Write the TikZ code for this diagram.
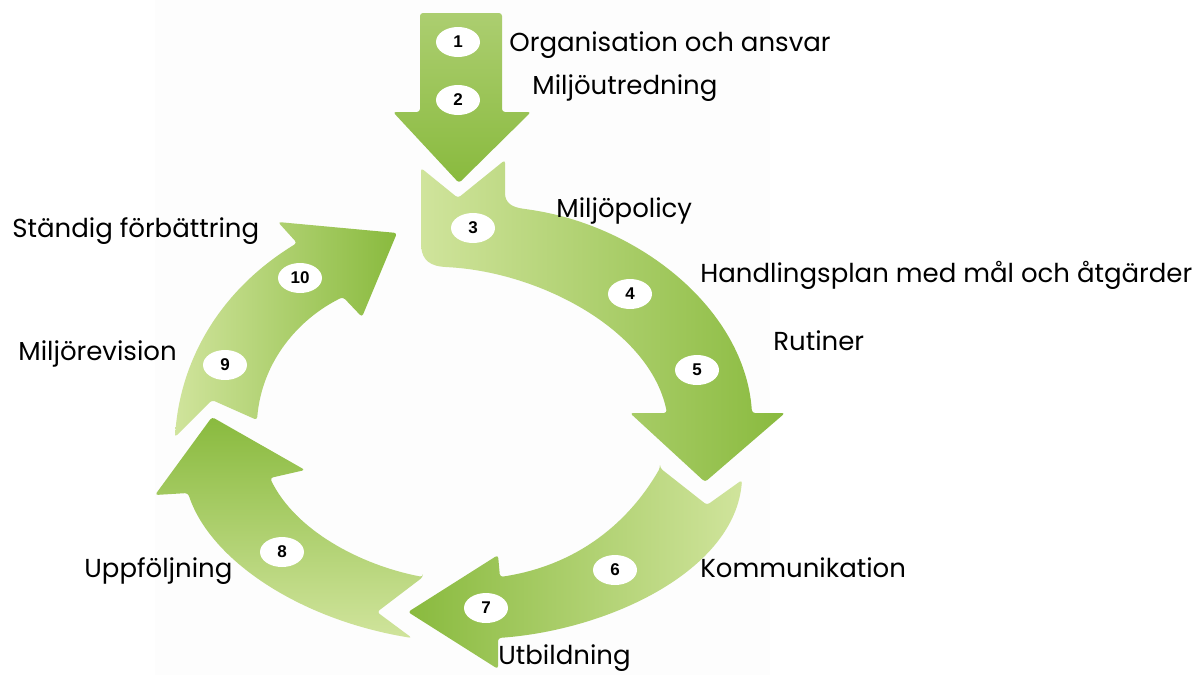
\documentclass[tikz,border=0pt]{standalone}
\usepackage{fontspec}
\setmainfont{Poppins}
\newfontfamily\numfont{Liberation Sans}
\usepackage{tikz}
\usetikzlibrary{shapes.geometric}
\definecolor{leaf}{RGB}{137,186,62}
\definecolor{sprout}{RGB}{208,228,156}
\definecolor{moss}{RGB}{172,206,112}
\definecolor{paper}{RGB}{253,253,253}

\begin{document}
\begin{tikzpicture}
	[x=0.5pt,y=-0.5pt,
	band/.style={rounded corners=1.5pt},
	pill/.style={ellipse,fill=white,minimum width=22pt,minimum height=15pt,inner sep=0pt,font=\numfont\bfseries\fontsize{8.5}{8.5}\selectfont},
	lbl/.style={anchor=base west,inner sep=0pt,font=\fontsize{13}{15}\selectfont}]
	\useasboundingbox (0,0) rectangle (1192,675);
	\fill[paper] (155,0) rectangle (770,675);
	% arrow 1-2
	\shade[band,top color=moss,bottom color=leaf] (420,13) -- (502,13) -- (502,112) -- (531,112) -- (459,183) -- (393,112) -- (420,112) -- cycle;
	% arrow 3-5
	\shade[band,left color=sprout,right color=leaf] (421,168) -- (458,198) -- (505,160) -- (505,190)
		.. controls (505,203) and (512,207) .. (525,209)
		.. controls (640,225) and (745,310) .. (752,413)
		-- (785,413) -- (705,482) -- (630,413) -- (667,413)
		.. controls (650,330) and (540,272) .. (445,267)
		.. controls (426,265) and (421,256) .. (421,240) -- cycle;
	% arrow 6-7
	\shade[band,left color=leaf,right color=sprout] (660,468) -- (707,505) -- (742,480)
		.. controls (735,570) and (610,630) .. (498,638)
		-- (498,669) -- (408,612) -- (498,555) -- (500,577)
		.. controls (580,565) and (630,520) .. (660,468) -- cycle;
	% arrow 8
	\shade[band,top color=leaf,bottom color=sprout] (423,577) -- (377,612) -- (412,638)
		.. controls (300,620) and (210,560) .. (188,493)
		-- (155,495) -- (212,417) -- (305,470) -- (270,478)
		.. controls (295,530) and (360,565) .. (423,577) -- cycle;
	% arrow 9-10
	\shade[band,left color=sprout,right color=leaf] (175,437) -- (212,400) -- (257,420)
		.. controls (262,360) and (300,318) .. (343,297)
		-- (362,317) -- (397,233) -- (278,222) -- (297,243)
		.. controls (220,290) and (180,360) .. (175,437) -- cycle;
	% numbers
	\foreach \n/\x/\y in {1/458/42,2/458/100,3/473/228,4/630/294,5/697/370,6/615/570,7/486/608,8/282/552,9/225/365,10/300/278}
	\node[pill] (p\n) at (\x,\y) {\n};
	% labels
	\foreach \n/\x/\y/\t in {1/509/51/Organisation och ansvar,2/532/94/Miljöutredning,3/556/217/Miljöpolicy,4/700/282/Handlingsplan med mål och åtgärder,5/773/350/Rutiner,6/700/577/Kommunikation,7/498/664/Utbildning,8/84/577/Uppföljning,9/18/360/Miljörevision,10/12/237/Ständig förbättring}
	\node[lbl] (t\n) at (\x,\y) {\t};
\end{tikzpicture}
\end{document}
